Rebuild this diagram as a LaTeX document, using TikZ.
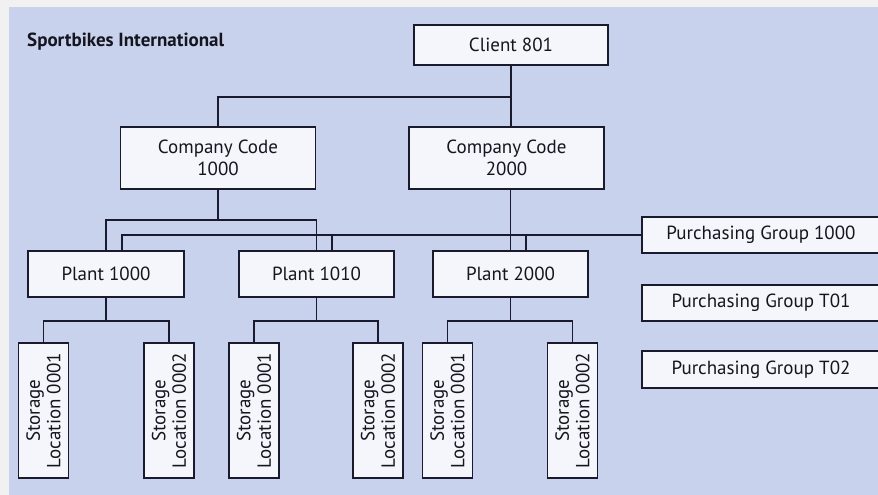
\documentclass[tikz,border=0pt]{standalone}
\usepackage{fontspec}
\setmainfont{PT Sans}
\usetikzlibrary{calc}

\definecolor{framegray}{HTML}{F1F1F1}
\definecolor{paperblue}{HTML}{C8D2EC}
\definecolor{boxfill}{HTML}{F4F6FB}
\definecolor{inkline}{HTML}{1A1A2E}
\definecolor{inktext}{HTML}{15151F}

\begin{document}
\begin{tikzpicture}[x=1pt,y=-1pt,
  orgbox/.style={draw=inkline, line width=1.5pt, fill=boxfill, inner sep=0pt,
    text=inktext, align=center, font=\fontsize{19}{21.5}\selectfont},
  storebox/.style={orgbox, minimum width=50pt, minimum height=135pt},
  link/.style={draw=inkline, line width=1.5pt},
  storetext/.style={rotate=90, align=center, text=inktext, inner sep=0pt,
    font=\fontsize{19}{20.5}\selectfont}]

  % page frame and blue panel
  \useasboundingbox (0,0) rectangle (878,495);
  \fill[framegray] (0,0) rectangle (878,495);
  \fill[paperblue] (9,7) rectangle (878,495);

  \node[anchor=west, text=inktext, font=\fontsize{19}{22}\selectfont\bfseries, inner sep=0pt]
    (title) at (27,42) {Sportbikes International};

  % client and company codes
  \node[orgbox, minimum width=194pt, minimum height=40pt] (client) at (511,45) {Client 801};
  \node[orgbox, minimum width=195pt, minimum height=62pt] (cc1) at (218,158) {Company Code\\1000};
  \node[orgbox, minimum width=195pt, minimum height=62pt] (cc2) at (506.5,158) {Company Code\\2000};

  % plants
  \node[orgbox, minimum width=156pt, minimum height=46pt] (p1000) at (106,274) {Plant 1000};
  \node[orgbox, minimum width=155pt, minimum height=46pt] (p1010) at (316.5,274) {Plant 1010};
  \node[orgbox, minimum width=155pt, minimum height=46pt] (p2000) at (510.5,274) {Plant 2000};

  % purchasing groups
  \node[orgbox, minimum width=238pt, minimum height=36pt] (pg1) at (761,235) {Purchasing Group 1000};
  \node[orgbox, minimum width=238pt, minimum height=36pt] (pg2) at (761,303) {Purchasing Group T01};
  \node[orgbox, minimum width=238pt, minimum height=37pt] (pg3) at (761,369.5) {Purchasing Group T02};

  % storage locations
  \node[storebox] (s1) at (43.5,410.5) {};
  \node[storebox] (s2) at (169,410.5) {};
  \node[storebox] (s3) at (254,410.5) {};
  \node[storebox] (s4) at (378,410.5) {};
  \node[storebox] (s5) at (447.5,410.5) {};
  \node[storebox] (s6) at (572.5,410.5) {};
  \foreach \s/\n in {s1/0001,s2/0002,s3/0001,s4/0002,s5/0001,s6/0002}
    \node[storetext] (\s t) at (\s) {Storage\\Location \n};

  % bus heights
  \coordinate (busC) at (0,97);
  \coordinate (busP) at (0,220);
  \coordinate (busS) at (0,321);

  % client to company codes
  \draw[link] (client.south) -- (client.south |- cc2.north);
  \draw[link] (client.south |- busC) -| (cc1.north);

  % company codes to plants
  \draw[link] (cc1.south) -- (cc1.south |- busP);
  \draw[link] (p1000.north) |- (p1010.north |- busP) -- (p1010.north);
  \draw[link] (p2000.north) -- (p2000.north |- cc2.south);

  % purchasing group 1000 to the plants
  \draw[link] (pg1.west) -| ([xshift=16pt]p1000.north);
  \draw[link] ([xshift=15.5pt]p1010.north) -- ([xshift=15.5pt]p1010.north |- pg1.west);
  \draw[link] ([xshift=15.5pt]p2000.north) -- ([xshift=15.5pt]p2000.north |- pg1.west);

  % plants to storage locations
  \draw[link] (p1000.south) -- (p1000.south |- busS);
  \draw[link] (s1.north) |- (s2.north |- busS) -- (s2.north);
  \draw[link] (p1010.south) -- (p1010.south |- busS);
  \draw[link] (s3.north) |- (s4.north |- busS) -- (s4.north);
  \draw[link] (p2000.south) -- (p2000.south |- busS);
  \draw[link] (s5.north) |- (s6.north |- busS) -- (s6.north);
\end{tikzpicture}
\end{document}
